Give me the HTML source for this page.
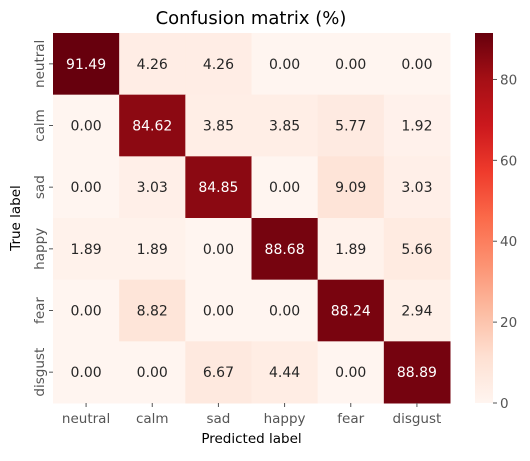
<!DOCTYPE html>
<html><head><meta charset="utf-8"><style>
body{margin:0;background:#fff;font-family:"Liberation Sans","DejaVu Sans",sans-serif;}
svg text{font-family:"DejaVu Sans","Liberation Sans",sans-serif;}
</style></head><body>
<svg id="c" width="530" height="456" xmlns="http://www.w3.org/2000/svg">
<defs><linearGradient id="cg" x1="0" y1="1" x2="0" y2="0">
<stop offset="0" stop-color="#fff5f0"/><stop offset="0.125" stop-color="#fee0d2"/><stop offset="0.25" stop-color="#fcbba1"/><stop offset="0.375" stop-color="#fc9272"/><stop offset="0.5" stop-color="#fb6a4a"/><stop offset="0.625" stop-color="#ef3b2c"/><stop offset="0.75" stop-color="#cb181d"/><stop offset="0.875" stop-color="#a50f15"/><stop offset="1" stop-color="#67000d"/>
</linearGradient></defs>
<text x="251" y="24" font-size="18" text-anchor="middle" fill="#000">Confusion matrix (%)</text>
<g id="cells"></g>
<rect x="475" y="33" width="18" height="370" fill="url(#cg)"/>
<g id="axes"></g>
</svg>
<script>
const labels=["neutral","calm","sad","happy","fear","disgust"];
const row0=[91.49,4.26,4.26,0.00,0.00,0.00];
const row1=[0.00,84.62,3.85,3.85,5.77,1.92];
const row2=[0.00,3.03,84.85,0.00,9.09,3.03];
const row3=[1.89,1.89,0.00,88.68,1.89,5.66];
const row4=[0.00,8.82,0.00,0.00,88.24,2.94];
const row5=[0.00,0.00,6.67,4.44,0.00,88.89];
const cbTicks=[0,20,40,60,80];
const rows=[row0,row1,row2,row3,row4,row5];
const L=53,T=33,W=397,H=370,n=labels.length,cw=W/n,ch=H/n;
const vmin=0,vmax=Math.max(...rows.flat());
const stops=["#fff5f0","#fee0d2","#fcbba1","#fc9272","#fb6a4a","#ef3b2c","#cb181d","#a50f15","#67000d"];
function hex(h){return [1,3,5].map(i=>parseInt(h.substr(i,2),16));}
function cmap(v){let t=Math.max(0,Math.min(1,(v-vmin)/(vmax-vmin)))*(stops.length-1);let i=Math.min(Math.floor(t),stops.length-2),f=t-i;const a=hex(stops[i]),b=hex(stops[i+1]);return "rgb("+a.map((x,k)=>Math.round(x+(b[k]-x)*f)).join(",")+")";}
const xs=i=>L+i*cw, ys=j=>T+j*ch, cy=v=>T+H-(v-vmin)/(vmax-vmin)*H;
const NS="http://www.w3.org/2000/svg";
function mk(tag,attrs,parent,txt){const e=document.createElementNS(NS,tag);for(const k in attrs)e.setAttribute(k,attrs[k]);if(txt!==undefined)e.textContent=txt;parent.appendChild(e);return e;}
const g=document.getElementById("cells"),ax=document.getElementById("axes");
rows.forEach((r,j)=>r.forEach((v,i)=>{
 const rc=mk("rect",{x:xs(i),y:ys(j),width:cw+0.5,height:ch+0.5,fill:cmap(v)},g);
 
 
 const t=mk("text",{x:xs(i)+cw/2,y:ys(j)+ch/2+5,"font-size":"14","text-anchor":"middle",fill:(v-vmin)/(vmax-vmin)>0.6?"#fff":"#262626"},g,v.toFixed(2));
 
 
}));
labels.forEach((l,i)=>{
 mk("line",{x1:xs(i)+cw/2,x2:xs(i)+cw/2,y1:T+H,y2:T+H+4,stroke:"#555"},ax);
 const t=mk("text",{x:xs(i)+cw/2,y:T+H+20,"font-size":"13.5","text-anchor":"middle",fill:"#555"},ax,l);
 
 
 mk("line",{x1:L-4,x2:L,y1:ys(i)+ch/2,y2:ys(i)+ch/2,stroke:"#555"},ax);
 const y=mk("text",{x:0,y:0,"font-size":"13.5","text-anchor":"middle",fill:"#555",transform:"translate("+(L-9)+","+(ys(i)+ch/2)+") rotate(-90)"},ax,l);
 
 
});
cbTicks.forEach(v=>{
 mk("line",{x1:493,x2:497,y1:cy(v),y2:cy(v),stroke:"#555"},ax);
 const t=mk("text",{x:500,y:cy(v)+5,"font-size":"13.5",fill:"#555"},ax,String(v));
 
 
});
const xt=mk("text",{x:L+W/2,y:443,"font-size":"13.5","text-anchor":"middle",fill:"#000"},ax,"Predicted label");


const yt=mk("text",{x:0,y:0,"font-size":"13.5","text-anchor":"middle",fill:"#000",transform:"translate(20,"+(T+H/2)+") rotate(-90)"},ax,"True label");


</script>
</body></html>
